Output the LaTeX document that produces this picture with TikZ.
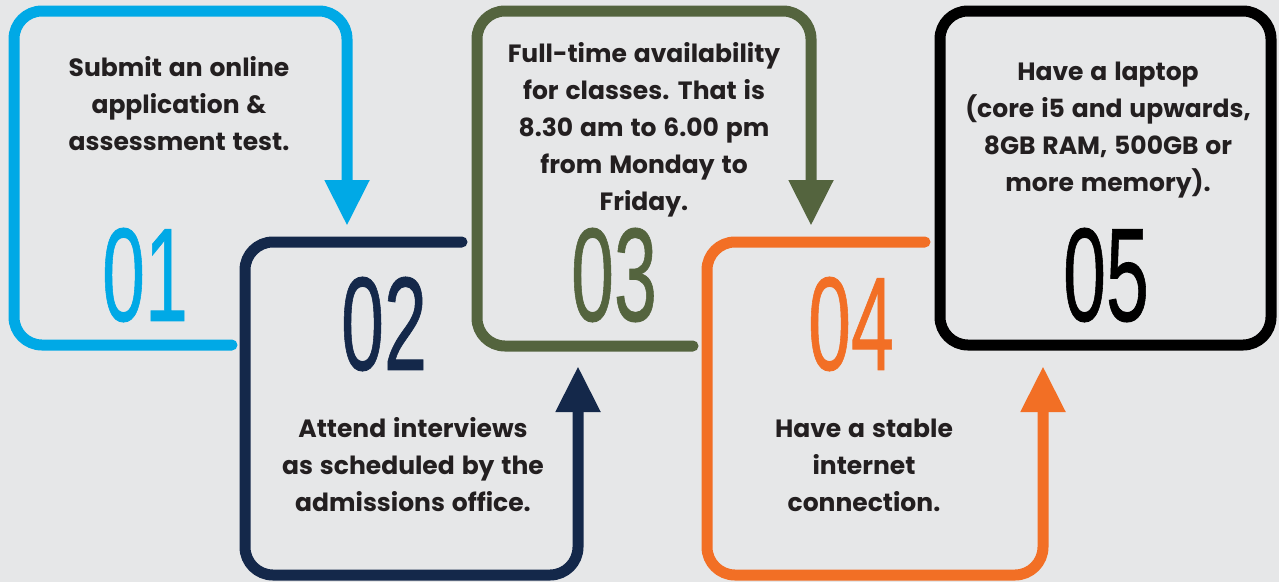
\documentclass[tikz,border=0pt]{standalone}
\usepackage{fontspec}
\usepackage{graphicx}
\setmainfont{Poppins}[WordSpace=1.3]
\newfontfamily\numfont{Liberation Sans}[FakeBold=0.7]
\usetikzlibrary{arrows.meta}
\definecolor{bgcol}{HTML}{E6E7E8}
\definecolor{txtcol}{HTML}{231F20}
\definecolor{cA}{HTML}{00A9E6}
\definecolor{cB}{HTML}{14284A}
\definecolor{cC}{HTML}{54643E}
\definecolor{cD}{HTML}{F26F25}
\definecolor{cE}{HTML}{000000}
\newcommand{\stepnum}[1]{\scalebox{0.58}[1]{#1}}

\begin{document}
\begin{tikzpicture}[x=1pt,y=-1pt,
	frame/.style={line width=11pt,rounded corners=28pt,line cap=round,-{Triangle[width=42pt,length=46pt]}},
	steptext/.style={align=center,text=txtcol,inner sep=0pt,font=\fontsize{25}{37}\selectfont\bfseries},
	stepnum/.style={inner sep=0pt,font=\numfont\fontsize{133}{133}\selectfont}]
\useasboundingbox[fill=bgcol] (0,0) rectangle (1279,582);

% step 1
\draw[frame,cA] (232,345) -- (14,345) -- (14,11) -- (347,11) -- (347,226);
\node[steptext] (tA) at (179,104) {Submit an online\\application \&\\assessment test.};
\node[stepnum,text=cA] (nA) at (145,275) {\stepnum{01}};

% step 2
\draw[frame,cB] (462,242) -- (245,242) -- (245,575) -- (578,575) -- (578,366);
\node[stepnum,text=cB] (nB) at (384,324) {\stepnum{02}};
\node[steptext] (tB) at (413,465) {Attend interviews\\as scheduled by the\\admissions office.};

% step 3
\draw[frame,cC] (693,346) -- (477,346) -- (477,11) -- (811,11) -- (811,226);
\node[steptext] (tC) at (644,130) {Full-time availability\\for classes. That is\\8.30 am to 6.00 pm\\from Monday to\\Friday.};
\node[stepnum,text=cC] (nC) at (614,275) {\stepnum{03}};

% step 4
\draw[frame,cD] (925,242) -- (707,242) -- (707,575) -- (1043,575) -- (1043,366);
\node[stepnum,text=cD] (nD) at (851,324) {\stepnum{04}};
\node[steptext] (tD) at (864,465) {Have a stable\\internet\\connection.};

% step 5
\draw[line width=11pt,rounded corners=28pt,cE] (940,11) rectangle (1271,345);
\node[steptext] (tE) at (1108,130) {Have a laptop\\(core i5 and upwards,\\8GB RAM, 500GB or\\more memory).};
\node[stepnum,text=cE] (nE) at (1106,275) {\stepnum{05}};
\end{tikzpicture}
\end{document}
